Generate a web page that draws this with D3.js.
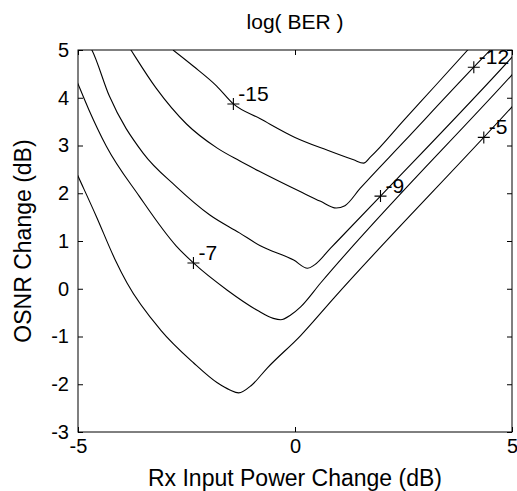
<!DOCTYPE html>
<html>
<head>
<meta charset="utf-8">
<script src="https://cdn.jsdelivr.net/npm/d3@7"></script>
<style>
  body { margin: 0; background: #fff; }
  svg { display: block; }
  text { font-family: "Liberation Sans", Arial, sans-serif; fill: #000; }
</style>
</head>
<body>
<svg width="517" height="491"></svg>
<script>
// contour levels, log10(BER)
var levels = [-15, -12, -9, -7, -5];

// contour points [Rx power change (dB), OSNR change (dB)]
var c15 = [[-2.81, 5], [-2.34, 4.66], [-1.81, 4.25], [-1.42, 3.87], [-0.8, 3.56], [0.0, 3.17],
           [0.75, 2.9], [1.35, 2.7], [1.58, 2.63], [1.74, 2.76], [2.5, 3.52], [3.2, 4.22], [3.98, 5], [4.1, 5.12]];
var c12 = [[-3.85, 5.1], [-3.78, 5], [-3.2, 4.2], [-2.5, 3.45], [-1.8, 2.95], [-1.28, 2.68], [-0.8, 2.45],
           [0.13, 2.03], [0.59, 1.83], [0.95, 1.69], [1.15, 1.74], [1.5, 2.1], [2.5, 3.07], [4.12, 4.64], [4.5, 5], [4.6, 5.1]];
var c9 = [[-4.74, 5.1], [-4.68, 5], [-4.28, 4.04], [-3.5, 2.84], [-2.75, 2.15], [-1.97, 1.55], [-1.28, 1.17],
          [-0.8, 0.9], [-0.03, 0.6], [0.29, 0.43], [0.45, 0.5], [0.82, 0.85], [1.97, 1.94], [5, 4.85], [5.1, 4.95]];
var c7 = [[-5.05, 4.4], [-5, 4.29], [-4.75, 3.75], [-4.35, 2.99], [-3.59, 1.94], [-2.74, 0.9], [-2.34, 0.54],
          [-1.56, -0.03], [-0.87, -0.45], [-0.5, -0.62], [-0.33, -0.65], [-0.1, -0.55], [0.13, -0.38],
          [0.59, 0.12], [5, 4.48], [5.1, 4.58]];
var c5 = [[-5.05, 2.46], [-5, 2.36], [-4.58, 1.52], [-4.15, 0.62], [-3.87, 0.12], [-3.1, -0.86], [-2.34, -1.55],
          [-1.79, -1.97], [-1.5, -2.12], [-1.3, -2.18], [-1.0, -2.02], [-0.64, -1.66], [0.13, -0.98],
          [0.89, -0.2], [5, 3.81], [5.1, 3.91]];
var contours = [c15, c12, c9, c7, c5];

// where each level is labelled (marker position)
var labelPts = [[-1.42, 3.87], [4.12, 4.64], [1.97, 1.94], [-2.34, 0.54], [4.35, 3.17]];

var xTicks = [-5, 0, 5];
var yTicks = [-3, -2, -1, 0, 1, 2, 3, 4, 5];

var margin = { top: 50, right: 5, bottom: 59, left: 78 };
var width = 517 - margin.left - margin.right;
var height = 491 - margin.top - margin.bottom;

var svg = d3.select('svg');

var x = d3.scaleLinear().domain([-5, 5]).range([0, width]);
var y = d3.scaleLinear().domain([-3, 5]).range([height, 0]);

var g = svg.append('g')
    .attr('transform', 'translate(' + margin.left + ',' + margin.top + ')');

g.append('clipPath').attr('id', 'plotclip')
  .append('rect').attr('width', width).attr('height', height);

// axes: ticks point inward, frame drawn separately
var fontTick = 20;

var xAxis = g.append('g')
    .attr('transform', 'translate(0,' + height + ')')
    .call(d3.axisBottom(x).tickValues(xTicks).tickSizeInner(-5).tickSizeOuter(0).tickPadding(7));
var xTop = g.append('g')
    .call(d3.axisTop(x).tickValues(xTicks).tickSizeInner(-5).tickSizeOuter(0).tickFormat(''));
var yAxis = g.append('g')
    .call(d3.axisLeft(y).tickValues(yTicks).tickSizeInner(-5).tickSizeOuter(0).tickPadding(9));
var yRight = g.append('g')
    .attr('transform', 'translate(' + width + ',0)')
    .call(d3.axisRight(y).tickValues(yTicks).tickSizeInner(-5).tickSizeOuter(0).tickFormat(''));

[xAxis, xTop, yAxis, yRight].forEach(function(a) {
  a.select('.domain').remove();
  a.selectAll('line').attr('stroke', '#000');
  a.selectAll('text')
    .style('font-size', fontTick + 'px')
    .style('font-family', '"Liberation Sans", Arial, sans-serif')
    .attr('fill', '#000');
});
// plain hyphen for negatives, as in the figure
xAxis.selectAll('text').text(function(d) { return String(d); });
yAxis.selectAll('text').text(function(d) { return String(d); });

g.append('rect')
    .attr('width', width).attr('height', height)
    .attr('fill', 'none').attr('stroke', '#000').attr('stroke-width', 1);

// contour lines
var line = d3.line()
    .x(function(d) { return x(d[0]); })
    .y(function(d) { return y(d[1]); })
    .curve(d3.curveMonotoneX);

g.append('g').attr('clip-path', 'url(#plotclip)')
  .selectAll('path')
  .data(contours)
  .enter().append('path')
    .attr('d', line)
    .attr('fill', 'none')
    .attr('stroke', '#000')
    .attr('stroke-width', 1.1);

// "+" markers with level labels
var lab = g.selectAll('.clabel')
    .data(levels)
    .enter().append('g')
    .attr('class', 'clabel')
    .attr('transform', function(d, i) {
      return 'translate(' + x(labelPts[i][0]) + ',' + y(labelPts[i][1]) + ')';
    });

lab.append('path')
    .attr('d', 'M-6,0H6M0,-6V6')
    .attr('stroke', '#000')
    .attr('stroke-width', 1.1);

lab.append('text')
    .attr('x', 5)
    .attr('y', -3)
    .style('font-size', '21px')
    .text(function(d) { return String(d); });

// title and axis labels
svg.append('text')
    .attr('x', margin.left + width / 2)
    .attr('y', 29)
    .attr('text-anchor', 'middle')
    .style('font-size', '21px')
    .text('log( BER )');

svg.append('text')
    .attr('x', margin.left + width / 2)
    .attr('y', 486)
    .attr('text-anchor', 'middle')
    .style('font-size', '23px')
    .text('Rx Input Power Change (dB)');

svg.append('text')
    .attr('transform', 'translate(31,' + (margin.top + height / 2) + ') rotate(-90)')
    .attr('text-anchor', 'middle')
    .style('font-size', '23px')
    .text('OSNR Change (dB)');
</script>
</body>
</html>
